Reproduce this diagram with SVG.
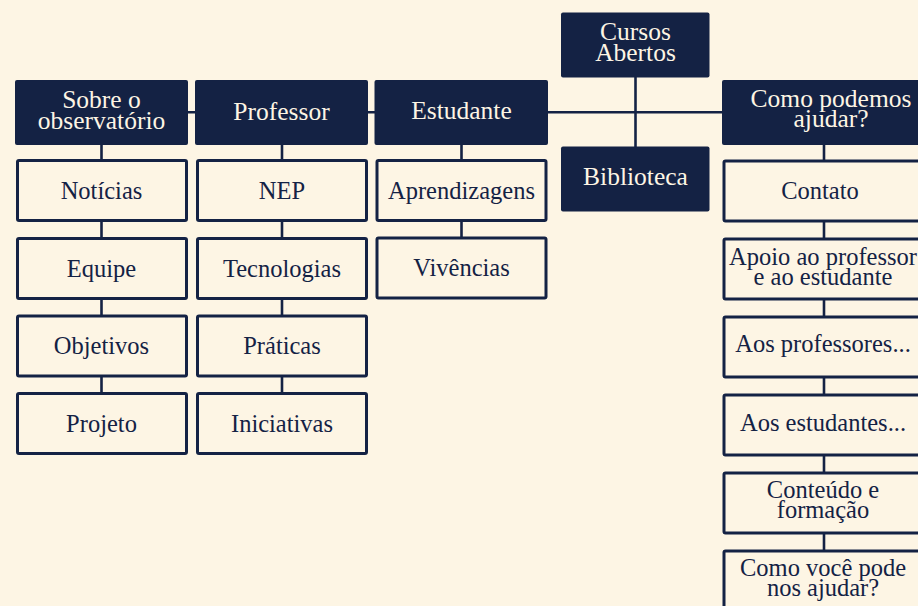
<svg xmlns="http://www.w3.org/2000/svg" width="918" height="606" viewBox="0 0 918 606">
<style>
.bg{fill:#fdf5e4}
.hd{fill:#142244}
.bx{fill:#fdf5e4;stroke:#142244;stroke-width:3}
.ht{font-family:"Liberation Serif","Times New Roman",serif;font-size:25.5px;fill:#fdf5e4;text-anchor:middle}
.bt{font-family:"Liberation Serif","Times New Roman",serif;font-size:24.5px;fill:#142244;text-anchor:middle}
.cn{stroke:#142244;stroke-width:2.6;fill:none}
</style>
<rect class="bg" x="0" y="0" width="918" height="606"/>
<g id="connectors">
<path class="cn" d="M188 112.3H722"/>
<path class="cn" d="M635.5 77V147"/>
<path class="cn" d="M101.5 145V160M101.5 221V238M101.5 299V316M101.5 377V394"/>
<path class="cn" d="M282 145V160M282 221V238M282 299V316M282 377V394"/>
<path class="cn" d="M461.5 145V160M461.5 221V238"/>
<path class="cn" d="M824 145V160M824 221V238M824 299V316M824 377V394M824 455V472M824 533V550"/>
</g>
<g id="sobre"><rect class="hd" x="15" y="80" width="173" height="65" rx="2"/><text class="ht" x="101.5" y="107.5"><tspan x="101.5">Sobre o</tspan><tspan x="101.5" dy="21">observatório</tspan></text></g>
<g id="professor"><rect class="hd" x="195" y="80" width="173" height="65" rx="2"/><text class="ht" x="281.5" y="120">Professor</text></g>
<g id="estudante"><rect class="hd" x="374.5" y="80" width="173.5" height="65" rx="2"/><text class="ht" x="461.5" y="119">Estudante</text></g>
<g id="cursos"><rect class="hd" x="561" y="12.5" width="148.5" height="65" rx="2"/><text class="ht" x="635.5" y="39.5"><tspan x="635.5">Cursos</tspan><tspan x="635.5" dy="21.5">Abertos</tspan></text></g>
<g id="biblioteca"><rect class="hd" x="561" y="146.5" width="148.5" height="65" rx="2"/><text class="ht" x="635.5" y="185">Biblioteca</text></g>
<g id="como"><rect class="hd" x="722" y="80" width="210" height="65" rx="2"/><text class="ht" x="831" y="106.5"><tspan x="831">Como podemos</tspan><tspan x="831" dy="20.5">ajudar?</tspan></text></g>

<g id="noticias"><rect class="bx" x="17.5" y="160.5" width="169" height="60" rx="1.5"/><text class="bt" x="101.5" y="198.5">Notícias</text></g>
<g id="equipe"><rect class="bx" x="17.5" y="238.5" width="169" height="60" rx="1.5"/><text class="bt" x="101.5" y="276.5">Equipe</text></g>
<g id="objetivos"><rect class="bx" x="17.5" y="316" width="169" height="60" rx="1.5"/><text class="bt" x="101.5" y="354">Objetivos</text></g>
<g id="projeto"><rect class="bx" x="17.5" y="393.5" width="169" height="60" rx="1.5"/><text class="bt" x="101.5" y="432">Projeto</text></g>

<g id="nep"><rect class="bx" x="197.5" y="160.5" width="169" height="60" rx="1.5"/><text class="bt" x="282" y="198.5">NEP</text></g>
<g id="tecnologias"><rect class="bx" x="197.5" y="238.5" width="169" height="60" rx="1.5"/><text class="bt" x="282" y="276.5">Tecnologias</text></g>
<g id="praticas"><rect class="bx" x="197.5" y="316" width="169" height="60" rx="1.5"/><text class="bt" x="282" y="354">Práticas</text></g>
<g id="iniciativas"><rect class="bx" x="197.5" y="393.5" width="169" height="60" rx="1.5"/><text class="bt" x="282" y="432">Iniciativas</text></g>

<g id="aprendizagens"><rect class="bx" x="377" y="160.5" width="169" height="60" rx="1.5"/><text class="bt" x="461.5" y="198.5">Aprendizagens</text></g>
<g id="vivencias"><rect class="bx" x="377" y="238" width="169" height="60" rx="1.5"/><text class="bt" x="461.5" y="275.5">Vivências</text></g>

<g id="contato"><rect class="bx" x="724" y="161" width="202" height="60" rx="1.5"/><text class="bt" x="820" y="199">Contato</text></g>
<g id="apoio"><rect class="bx" x="724" y="239" width="202" height="60" rx="1.5"/><text class="bt" x="823" y="264.5"><tspan x="823">Apoio ao professor</tspan><tspan x="823" dy="20">e ao estudante</tspan></text></g>
<g id="aosprofessores"><rect class="bx" x="724" y="317" width="202" height="60" rx="1.5"/><text class="bt" x="823" y="352">Aos professores...</text></g>
<g id="aosestudantes"><rect class="bx" x="724" y="395" width="202" height="60" rx="1.5"/><text class="bt" x="823" y="431">Aos estudantes...</text></g>
<g id="conteudo"><rect class="bx" x="724" y="473" width="202" height="60" rx="1.5"/><text class="bt" x="823" y="497.5"><tspan x="823">Conteúdo e</tspan><tspan x="823" dy="20">formação</tspan></text></g>
<g id="comovoce"><rect class="bx" x="724" y="551" width="202" height="60" rx="1.5"/><text class="bt" x="823" y="576"><tspan x="823">Como você pode</tspan><tspan x="823" dy="20">nos ajudar?</tspan></text></g>
</svg>
